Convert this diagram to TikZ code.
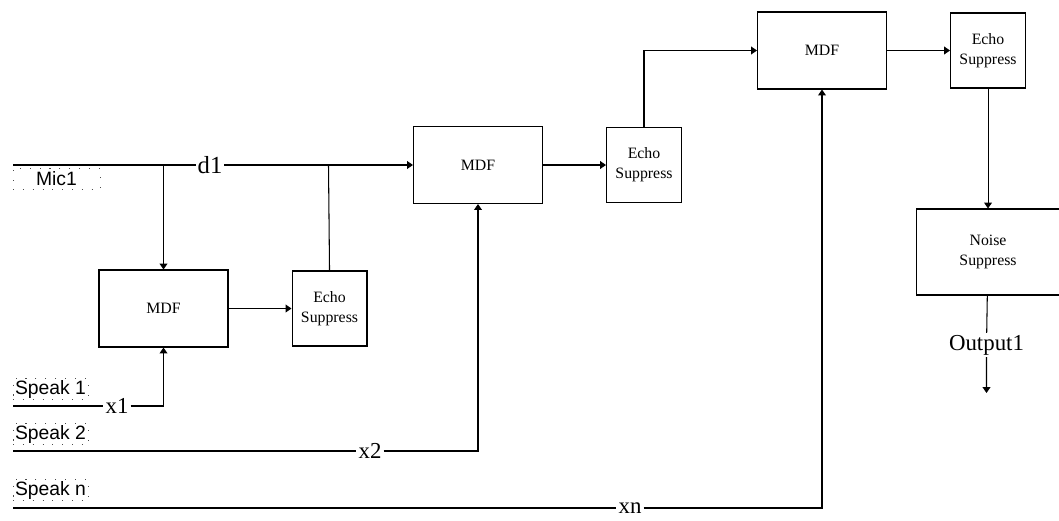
\documentclass[tikz,border=0pt]{standalone}
\usepackage{fontspec}
\setmainfont{Liberation Serif}
\newfontfamily\lblsans{Liberation Sans}
\usetikzlibrary{positioning, arrows.meta}

\tikzset{
    blk/.style={draw, line width=0.6pt, align=center, font=\fontsize{9}{11.5}\selectfont},
    mdfbox/.style={blk, minimum width=2.58cm, minimum height=1.54cm},
    echobox/.style={blk, minimum width=1.5cm, minimum height=1.5cm},
    sig/.style={line width=0.6pt, -{Triangle[length=3.4pt, width=4.5pt]}},
    wire/.style={line width=0.6pt},
    onwire/.style={fill=white, inner sep=1pt, font=\fontsize{13}{13}\selectfont},
    srcbox/.style={draw=black!70, dash pattern=on 0.6pt off 5pt, inner sep=0pt,
        minimum height=0.42cm, font=\lblsans\fontsize{11}{11}\selectfont}
}

\begin{document}
\begin{tikzpicture}[x=0.02cm, y=-0.02cm]
    \useasboundingbox (0,0) rectangle (1059,521);

    % Blocks
    \node (mdfA) [mdfbox] at (163.5,308.5) {MDF};
    \node (esA) [echobox, right=1.26cm of mdfA] {Echo\\Suppress};
    \node (mdfB) [mdfbox] at (478,165) {MDF};
    \node (esB) [echobox, right=1.26cm of mdfB] {Echo\\Suppress};
    \node (mdfC) [mdfbox] at (822,50.5) {MDF};
    \node (esC) [echobox, right=1.26cm of mdfC] {Echo\\Suppress};
    \node (ns) [blk, minimum width=2.88cm, minimum height=1.72cm, below=2.4cm of esC] {Noise\\Suppress};

    % Sources
    \node (mic) [srcbox, minimum width=1.74cm] at (56.5,179) {Mic1};
    \node (spA) [srcbox, minimum width=1.5cm] at (50.5,389) {Speak 1};
    \node (spB) [srcbox, minimum width=1.5cm] at (50.5,434) {Speak 2};
    \node (spN) [srcbox, minimum width=1.5cm] at (50.5,490) {Speak n};
    \coordinate (micIn) at (13,165);
    \coordinate (spAIn) at (13,406);
    \coordinate (spBIn) at (13,451);
    \coordinate (spNIn) at (13,508);

    % Signal labels
    \node (d1) [onwire, font=\fontsize{14}{14}\selectfont] at (210,165) {d1};
    \node (xA) [onwire] at (117,406) {x1};
    \node (xB) [onwire] at (370,451) {x2};
    \node (xN) [onwire] at (630,508) {xn};
    \node (outLbl) [onwire] at (986.5,345) {Output1};
    \coordinate (outEnd) at (986.5,393);
    \coordinate (brA) at (163.5,165);
    \coordinate (brB) at (328.5,165);

    % Mic path
    \draw[sig] (micIn) -- (d1) -- (mdfB);
    \draw[sig] (brA) -- (mdfA.north);
    \draw[wire] (brB) -- (esA.north);

    % Reference paths
    \draw[sig] (spAIn) -- (xA) -| (mdfA.south);
    \draw[sig] (spBIn) -- (xB) -| (mdfB.south);
    \draw[sig] (spNIn) -- (xN) -| (mdfC.south);

    % Cascade
    \draw[sig] (mdfA) -- (esA);
    \draw[sig] (mdfB) -- (esB);
    \draw[sig] (esB.north) |- (mdfC.west);
    \draw[sig] (mdfC) -- (esC);
    \draw[sig] (esC) -- (ns);
    \draw[sig] (ns) -- (outLbl) -- (outEnd);
\end{tikzpicture}
\end{document}
